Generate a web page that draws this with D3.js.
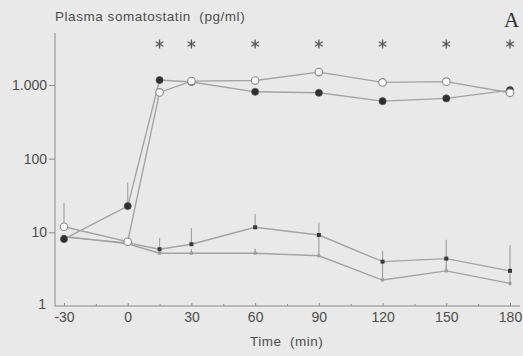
<!DOCTYPE html>
<html>
<head>
<meta charset="utf-8">
<script src="https://cdn.jsdelivr.net/npm/d3@7"></script>
<style>
  html, body { margin: 0; padding: 0; background: #e9e9e9; }
  svg { display: block; font-family: 'Liberation Sans', Arial, sans-serif; }
  .pre { white-space: pre; }
</style>
</head>
<body>
<div id="chart"></div>
<script>
const times = [-30, 0, 15, 30, 60, 90, 120, 150, 180];
const xTickValues = [-30, 0, 30, 60, 90, 120, 150, 180];
const xTickLabels = ['-30', '0', '30', '60', '90', '120', '150', '180'];
const xMinorTicks = [-15, 15, 45, 75, 105, 135, 165];
const yTickValues = [1, 10, 100, 1000];
const yTickLabels = ['1', '10', '100', '1.000'];
const starTimes = [15, 30, 60, 90, 120, 150, 180];

// high curves
const highFilled = [8.1, 22.7, 1166, 1100, 808, 784, 604, 658, 853];
const highFilledUp = [null, 47, null, null, null, null, null, null, null];
const highOpen = [11.9, 7.45, 793, 1130, 1150, 1497, 1084, 1110, 784];
const highOpenUp = [25, null, null, null, null, null, null, null, null];

// low curves
const lowFilled = [8.6, 7.2, 5.9, 6.9, 11.7, 9.2, 4.0, 4.4, 3.0];
const lowFilledUp = [null, null, 8.4, 11.4, 17.7, 13.5, 5.6, 7.9, 6.7];
const lowFilledDown = [null, null, null, null, null, 4.8, 2.25, 3.0, 1.9];
const lowOpen = [8.8, 7.0, 5.2, 5.2, 5.2, 4.8, 2.25, 3.0, 2.03];
const lowOpenUp = [null, null, 5.9, 5.9, 6.0, null, null, 3.6, null];

const width = 523, height = 356;
const svg = d3.select('#chart').append('svg')
  .attr('width', width)
  .attr('height', height);

svg.append('rect').attr('width', width).attr('height', height).attr('fill', '#e9e9e9');

const x = d3.scaleLinear().domain([-30, 180]).range([64, 510]);
const y = d3.scaleLog().domain([1, 1000]).range([306, 85]);

const axisColor = '#8a8a8a';
const textColor = '#4d4d4d';
const lineColor = '#a3a3a3';

// x axis
const xAxis = svg.append('g')
  .attr('transform', 'translate(0,306)')
  .call(d3.axisBottom(x).tickValues(xTickValues).tickSizeInner(-3).tickSizeOuter(0).tickPadding(6)
    .tickFormat((d, i) => xTickLabels[i]));
xAxis.select('.domain').attr('d', 'M55,0H520').attr('stroke', axisColor);
xAxis.selectAll('.tick line').attr('stroke', axisColor);
xAxis.selectAll('text').attr('fill', textColor).style('font-size', '14px');

const xMinor = svg.append('g')
  .attr('transform', 'translate(0,306)')
  .call(d3.axisBottom(x).tickValues(xMinorTicks).tickSizeInner(-2).tickSizeOuter(0).tickFormat(''));
xMinor.select('.domain').remove();
xMinor.selectAll('.tick line').attr('stroke', axisColor);

// y axis
const yAxis = svg.append('g')
  .attr('transform', 'translate(55,0)')
  .call(d3.axisLeft(y).tickValues(yTickValues).tickSizeInner(6).tickSizeOuter(0).tickPadding(2)
    .tickFormat((d, i) => yTickLabels[i]));
yAxis.select('.domain').attr('d', `M0,${y(1)}V33`).attr('stroke', axisColor);
yAxis.selectAll('.tick line').attr('stroke', axisColor).filter(d => d === 1).remove();
yAxis.selectAll('text').attr('fill', textColor).style('font-size', '14px');
yAxis.selectAll('.tick').filter(d => d === 1).select('text').attr('x', -9).attr('dy', '0.2em');

// titles
svg.append('text')
  .attr('class', 'pre')
  .attr('x', 55).attr('y', 21)
  .attr('fill', textColor)
  .style('font-size', '13.5px')
  .style('letter-spacing', '0.55px')
  .text('Plasma somatostatin  (pg/ml)');

svg.append('text')
  .attr('class', 'pre')
  .attr('x', 250).attr('y', 346)
  .attr('fill', textColor)
  .style('font-size', '13.5px')
  .style('letter-spacing', '0.5px')
  .text('Time  (min)');

svg.append('text')
  .attr('x', 504).attr('y', 27)
  .attr('fill', '#2e2e2e')
  .style('font-family', "'Liberation Serif', 'Times New Roman', serif")
  .style('font-size', '21px')
  .text('A');

// asterisks
svg.append('g').selectAll('path')
  .data(starTimes)
  .join('path')
  .attr('transform', d => `translate(${x(d)},44)`)
  .attr('d', d3.symbol(d3.symbolAsterisk, 55))
  .attr('fill', 'none')
  .attr('stroke', '#555')
  .attr('stroke-width', 1.3);

function drawSeries(values, up, down) {
  const data = times.map((t, i) => ({ t, v: values[i], up: up ? up[i] : null, down: down ? down[i] : null }));
  const bars = data.filter(d => d.up != null || d.down != null);
  svg.append('g').selectAll('line')
    .data(bars)
    .join('line')
    .attr('x1', d => x(d.t)).attr('x2', d => x(d.t))
    .attr('y1', d => y(d.down != null ? d.down : d.v))
    .attr('y2', d => y(d.up != null ? d.up : d.v))
    .attr('stroke', lineColor)
    .attr('stroke-width', 1.2);
  svg.append('path')
    .datum(data)
    .attr('fill', 'none')
    .attr('stroke', lineColor)
    .attr('stroke-width', 1.4)
    .attr('d', d3.line().x(d => x(d.t)).y(d => y(d.v)));
  return data;
}

const lowOpenData = drawSeries(lowOpen, lowOpenUp, null);
const lowFilledData = drawSeries(lowFilled, lowFilledUp, lowFilledDown);
const highOpenData = drawSeries(highOpen, highOpenUp, null);
const highFilledData = drawSeries(highFilled, highFilledUp, null);

svg.append('g').selectAll('rect')
  .data(lowOpenData)
  .join('rect')
  .attr('x', d => x(d.t) - 1.5).attr('y', d => y(d.v) - 1.5)
  .attr('width', 3).attr('height', 3)
  .attr('fill', '#9a9a9a');

svg.append('g').selectAll('rect')
  .data(lowFilledData)
  .join('rect')
  .attr('x', d => x(d.t) - 2).attr('y', d => y(d.v) - 2)
  .attr('width', 4).attr('height', 4)
  .attr('fill', '#3a3a3a');

svg.append('g').selectAll('circle')
  .data(highFilledData)
  .join('circle')
  .attr('cx', d => x(d.t)).attr('cy', d => y(d.v))
  .attr('r', 3.6)
  .attr('fill', '#2f2f2f')
  .attr('stroke', '#555')
  .attr('stroke-width', 0.6);

svg.append('g').selectAll('circle')
  .data(highOpenData)
  .join('circle')
  .attr('cx', d => x(d.t)).attr('cy', d => y(d.v))
  .attr('r', 3.8)
  .attr('fill', '#fafafa')
  .attr('stroke', '#8a8a8a')
  .attr('stroke-width', 1.1);
</script>
</body>
</html>
